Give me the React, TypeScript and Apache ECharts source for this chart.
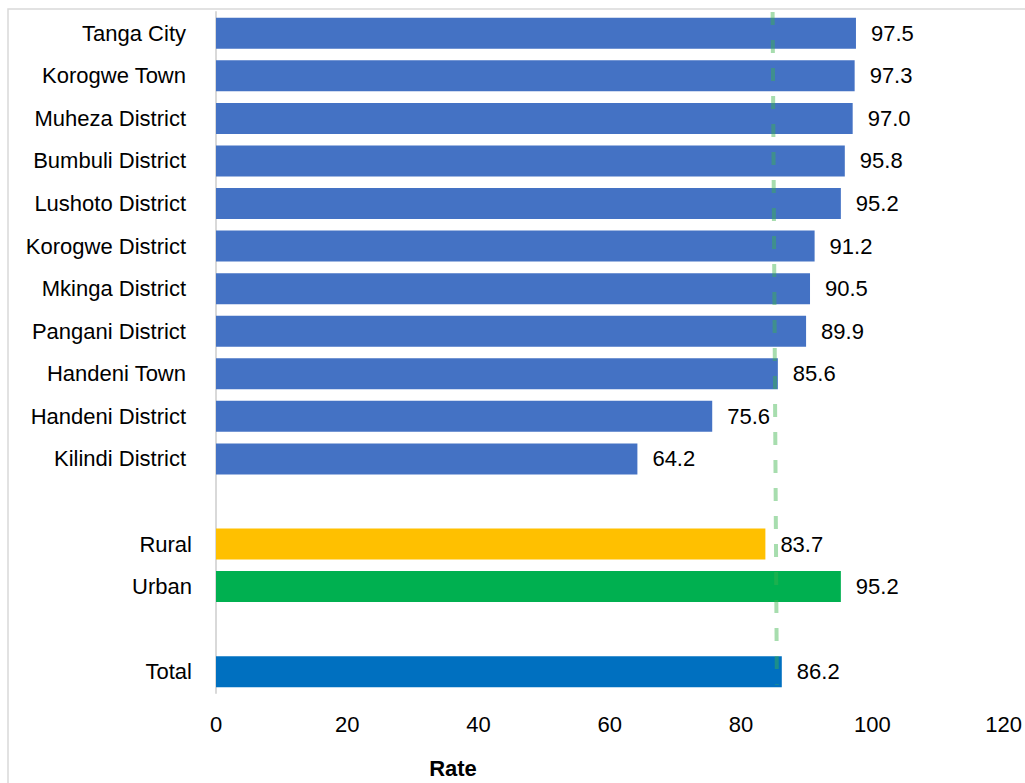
import React, { useEffect, useRef } from "react";
import * as echarts from "echarts";

const districts = [
  "Tanga City",
  "Korogwe Town",
  "Muheza District",
  "Bumbuli District",
  "Lushoto District",
  "Korogwe District",
  "Mkinga District",
  "Pangani District",
  "Handeni Town",
  "Handeni District",
  "Kilindi District",
];
const districtValues = [97.5, 97.3, 97.0, 95.8, 95.2, 91.2, 90.5, 89.9, 85.6, 75.6, 64.2];
const areas = ["Rural", "Urban"];
const areaValues = [83.7, 95.2];
const totalName = "Total";
const totalValue = 86.2;
const xTicks = [0, 20, 40, 60, 80, 100, 120];
// dashed reference line: [rate, relative height (0 = bottom, 1 = top)]
const refLine = [
  [84.8, 1.0],
  [85.45, 0.012],
];
const axisTitle = "Rate";

const DISTRICT_COLOR = "#4472C4";
const AREA_COLORS = ["#FFC000", "#00B050"];
const TOTAL_COLOR = "#0070C0";
const FONT = "'Liberation Sans', Arial, sans-serif";

export default function App() {
  const ref = useRef<HTMLDivElement>(null);
  useEffect(() => {
    document.body.style.margin = "0";
    if (!ref.current) return;
    const chart = echarts.init(ref.current, null, { renderer: "svg" });

    const categories = [...districts, " ", ...areas, "  ", totalName];
    const data: any[] = [];
    districts.forEach((_, i) =>
      data.push({ value: districtValues[i], itemStyle: { color: DISTRICT_COLOR } })
    );
    data.push({ value: "-" });
    areas.forEach((_, i) =>
      data.push({ value: areaValues[i], itemStyle: { color: AREA_COLORS[i] } })
    );
    data.push({ value: "-" });
    data.push({ value: totalValue, itemStyle: { color: TOTAL_COLOR } });

    chart.setOption({
      animation: false,
      backgroundColor: "#ffffff",
      textStyle: { fontFamily: FONT },
      grid: { left: 216, right: 20, top: 12, bottom: 90, containLabel: false },
      xAxis: {
        type: "value",
        min: xTicks[0],
        max: xTicks[xTicks.length - 1],
        interval: xTicks[1] - xTicks[0],
        axisLine: { show: false },
        axisTick: { show: false },
        splitLine: { show: false },
        axisLabel: { color: "#000", fontSize: 22, margin: 20, fontFamily: FONT },
      },
      yAxis: [
        {
          type: "category",
          data: categories,
          inverse: true,
          axisLine: { show: true, lineStyle: { color: "#d9d9d9", width: 2 } },
          axisTick: { show: false },
          splitLine: { show: false },
          axisLabel: {
            color: "#000",
            fontSize: 22,
            margin: 24,
            fontFamily: FONT,
            formatter: (v: string) =>
              districts.includes(v) ? `{d|${v}}` : `{o|${v}}`,
            rich: {
              d: { fontSize: 22, color: "#000", fontFamily: FONT, padding: [0, 6, 0, 0] },
              o: { fontSize: 22, color: "#000", fontFamily: FONT },
            },
          },
        },
        {
          type: "value",
          min: 0,
          max: 1,
          show: false,
        },
      ],
      series: [
        {
          type: "bar",
          data,
          barWidth: 31,
          yAxisIndex: 0,
          label: {
            show: true,
            position: "right",
            distance: 15,
            color: "#000",
            fontSize: 22,
            fontFamily: FONT,
            formatter: (p: any) => Number(p.value).toFixed(1),
          },
        },
        {
          type: "line",
          yAxisIndex: 1,
          data: refLine,
          symbol: "none",
          clip: false,
          z: 5,
          lineStyle: {
            color: "rgba(60,180,75,0.45)",
            width: 4,
            type: [13, 15],
          },
        },
      ],
      graphic: [
        {
          type: "rect",
          shape: { x: 8, y: 9, width: 1100, height: 900 },
          style: { fill: "none", stroke: "#d9d9d9", lineWidth: 1.5 },
          silent: true,
          z: 0,
        },
        {
          type: "text",
          x: 453,
          y: 768,
          style: {
            text: axisTitle,
            fontSize: 22,
            fontWeight: "bold",
            fill: "#000",
            fontFamily: FONT,
            align: "center",
            verticalAlign: "middle",
          },
        },
      ],
    });
    return () => chart.dispose();
  }, []);
  return <div ref={ref} style={{ width: 1025, height: 783 }} />;
}
